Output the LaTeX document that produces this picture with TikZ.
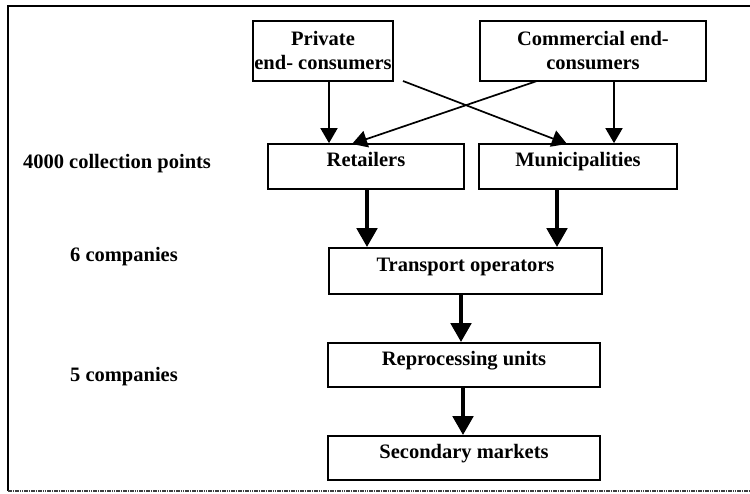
\documentclass[tikz,border=0pt]{standalone}
\usepackage{fontspec}
\setmainfont{Liberation Serif}
\usetikzlibrary{arrows.meta}
\begin{document}
\begin{tikzpicture}[x=1pt,y=-1pt,
  font=\fontsize{20.5}{24}\selectfont\bfseries,
  box/.style={draw, line width=1.7pt, inner sep=0pt, align=center},
  onebox/.style={box, text height=14pt, text depth=13pt},
  side/.style={inner sep=0pt},
  thinarrow/.style={line width=1.7pt, -{Triangle[width=17pt,length=15pt]}},
  thickarrow/.style={line width=4.8pt, -{Triangle[width=20pt,length=19pt]}},
  frameline/.style={line width=1.8pt}]
\useasboundingbox (0,0) rectangle (750,494);

% outer frame (top, left, bottom)
\coordinate (ftl) at (8,6);
\coordinate (ftr) at (750,6);
\coordinate (fbl) at (8,491);
\coordinate (fbr) at (750,491);
\draw[frameline] (ftr) -- (ftl) -- (fbl);
\draw[line width=1.8pt, black!75, dash pattern=on 1.6pt off 0.7pt] (fbl) -- (fbr);

% boxes
\node[box, minimum width=140, minimum height=60] (priv) at (323,51) {Private\\end- consumers};
\node[box, minimum width=226, minimum height=60] (comm) at (593,51) {Commercial end-\\consumers};
\node[onebox, minimum width=196, minimum height=45] (ret) at (366,166.5) {Retailers};
\node[onebox, minimum width=198, minimum height=45] (mun) at (578,166.5) {Municipalities};
\node[onebox, minimum width=273, minimum height=46] (trans) at (465.5,271) {Transport operators};
\node[onebox, minimum width=272, minimum height=44] (repro) at (464,365) {Reprocessing units};
\node[onebox, minimum width=272, minimum height=44] (sec) at (464,458) {Secondary markets};

% level annotations
\node[side] (l1) at (117,164) {4000 collection points};
\node[side] (l2) at (124,257) {6 companies};
\node[side] (l3) at (124,377) {5 companies};

% connector end points
\coordinate (p1) at ([xshift=6pt]priv.south);
\coordinate (p2) at (403,81);
\coordinate (c1) at (537,81);
\coordinate (c2) at (614,81);
\coordinate (r1) at (p1 |- ret.north);
\coordinate (r2) at (352,144);
\coordinate (r3) at (367,189);
\coordinate (m1) at (567,144);
\coordinate (m2) at (c2 |- mun.north);
\coordinate (m3) at (557,189);
\coordinate (t1) at (r3 |- trans.north);
\coordinate (t2) at (m3 |- trans.north);
\coordinate (t3) at (461,294);
\coordinate (q1) at (t3 |- repro.north);
\coordinate (q2) at (463,387);
\coordinate (s1) at (q2 |- sec.north);

% consumer flows
\draw[thinarrow] (p1) -- (r1);
\draw[thinarrow] (p2) -- (m1);
\draw[thinarrow] (c1) -- (r2);
\draw[thinarrow] (c2) -- (m2);

% collection and processing chain
\draw[thickarrow] (r3) -- (t1);
\draw[thickarrow] (m3) -- (t2);
\draw[thickarrow] (t3) -- (q1);
\draw[thickarrow] (q2) -- (s1);
\end{tikzpicture}
\end{document}
